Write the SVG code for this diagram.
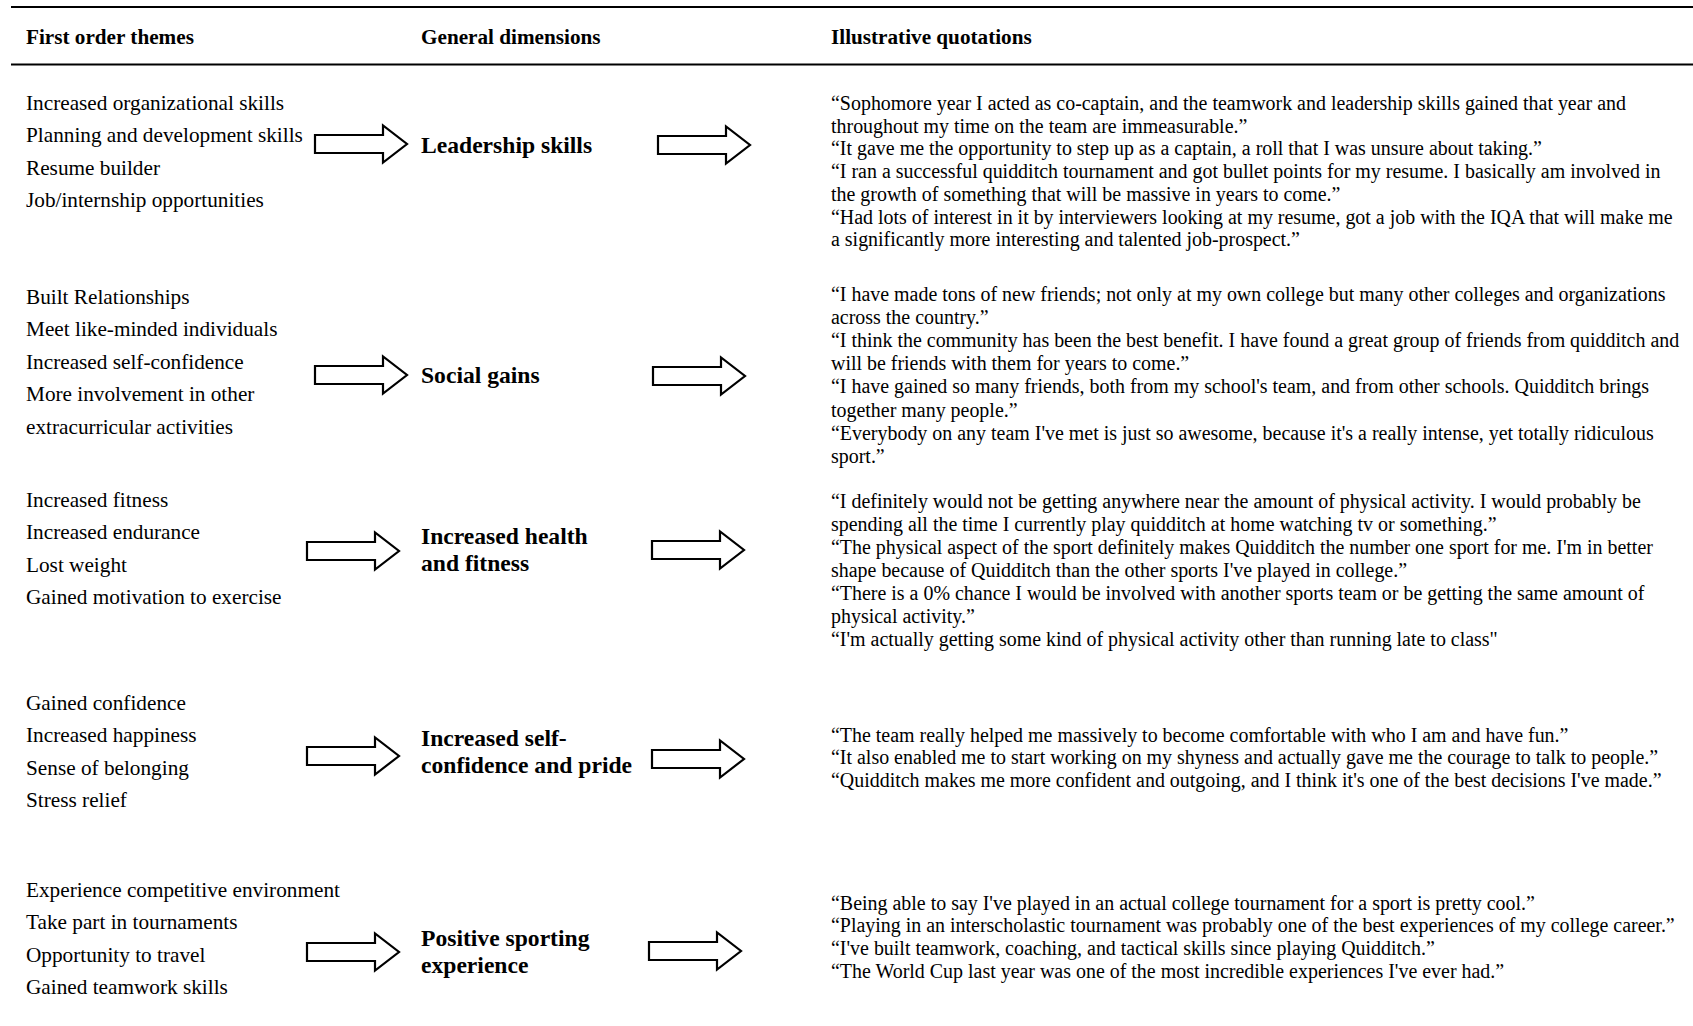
<svg xmlns="http://www.w3.org/2000/svg" xmlns:xlink="http://www.w3.org/1999/xlink" width="1693" height="1026" viewBox="0 0 1693 1026">
<style>
text{font-family:"Liberation Serif","Times New Roman",serif;fill:#000}
.h{font-size:21.2px;font-weight:bold}
.t{font-size:21.25px}
.d{font-size:23.6px;font-weight:bold}
.q{font-size:19.95px}
.rule{stroke:#000;stroke-width:2}
.arr{fill:#fff;stroke:#000;stroke-width:2.2;stroke-linejoin:miter}
</style>
<defs>
<path id="arrow" class="arr" d="M0,-9 H68 V-18.5 L92,0 L68,18.5 V9 H0 Z"/>
</defs>
<rect width="1693" height="1026" fill="#fff"/>
<g id="header">
<line class="rule" x1="11" y1="7" x2="1693" y2="7"/>
<line class="rule" x1="11" y1="64.5" x2="1693" y2="64.5"/>
<text class="h" x="26" y="44">First order themes</text>
<text class="h" x="421" y="44">General dimensions</text>
<text class="h" x="831" y="44">Illustrative quotations</text>
</g>
<g id="themes-leadership">
<text class="t" x="26" y="110">Increased organizational skills</text>
<text class="t" x="26" y="142.4">Planning and development skills</text>
<text class="t" x="26" y="174.8">Resume builder</text>
<text class="t" x="26" y="207.2">Job/internship opportunities</text>
</g>
<g id="dim-leadership"><text class="d" x="421" y="152.5">Leadership skills</text></g>
<g id="quotes-leadership">
<text class="q" x="831" y="110">“Sophomore year I acted as co-captain, and the teamwork and leadership skills gained that year and</text>
<text class="q" x="831" y="132.7">throughout my time on the team are immeasurable.”</text>
<text class="q" x="831" y="155.4">“It gave me the opportunity to step up as a captain, a roll that I was unsure about taking.”</text>
<text class="q" x="831" y="178.1">“I ran a successful quidditch tournament and got bullet points for my resume. I basically am involved in</text>
<text class="q" x="831" y="200.8">the growth of something that will be massive in years to come.”</text>
<text class="q" x="831" y="223.5">“Had lots of interest in it by interviewers looking at my resume, got a job with the IQA that will make me</text>
<text class="q" x="831" y="246.2">a significantly more interesting and talented job-prospect.”</text>
</g>
<g id="themes-social">
<text class="t" x="26" y="304">Built Relationships</text>
<text class="t" x="26" y="336.4">Meet like-minded individuals</text>
<text class="t" x="26" y="368.8">Increased self-confidence</text>
<text class="t" x="26" y="401.2">More involvement in other</text>
<text class="t" x="26" y="433.6">extracurricular activities</text>
</g>
<g id="dim-social"><text class="d" x="421" y="383">Social gains</text></g>
<g id="quotes-social">
<text class="q" x="831" y="301">“I have made tons of new friends; not only at my own college but many other colleges and organizations</text>
<text class="q" x="831" y="324.1">across the country.”</text>
<text class="q" x="831" y="347.2">“I think the community has been the best benefit. I have found a great group of friends from quidditch and</text>
<text class="q" x="831" y="370.3">will be friends with them for years to come.”</text>
<text class="q" x="831" y="393.4">“I have gained so many friends, both from my school's team, and from other schools. Quidditch brings</text>
<text class="q" x="831" y="416.5">together many people.”</text>
<text class="q" x="831" y="439.6">“Everybody on any team I've met is just so awesome, because it's a really intense, yet totally ridiculous</text>
<text class="q" x="831" y="462.7">sport.”</text>
</g>
<g id="themes-health">
<text class="t" x="26" y="507">Increased fitness</text>
<text class="t" x="26" y="539.4">Increased endurance</text>
<text class="t" x="26" y="571.8">Lost weight</text>
<text class="t" x="26" y="604.2">Gained motivation to exercise</text>
</g>
<g id="dim-health">
<text class="d" x="421" y="544">Increased health</text>
<text class="d" x="421" y="571">and fitness</text>
</g>
<g id="quotes-health">
<text class="q" x="831" y="508">“I definitely would not be getting anywhere near the amount of physical activity. I would probably be</text>
<text class="q" x="831" y="531">spending all the time I currently play quidditch at home watching tv or something.”</text>
<text class="q" x="831" y="554">“The physical aspect of the sport definitely makes Quidditch the number one sport for me. I'm in better</text>
<text class="q" x="831" y="577">shape because of Quidditch than the other sports I've played in college.”</text>
<text class="q" x="831" y="600">“There is a 0% chance I would be involved with another sports team or be getting the same amount of</text>
<text class="q" x="831" y="623">physical activity.”</text>
<text class="q" x="831" y="646">“I'm actually getting some kind of physical activity other than running late to class"</text>
</g>
<g id="themes-confidence">
<text class="t" x="26" y="710">Gained confidence</text>
<text class="t" x="26" y="742.4">Increased happiness</text>
<text class="t" x="26" y="774.8">Sense of belonging</text>
<text class="t" x="26" y="807.2">Stress relief</text>
</g>
<g id="dim-confidence">
<text class="d" x="421" y="746">Increased self-</text>
<text class="d" x="421" y="773">confidence and pride</text>
</g>
<g id="quotes-confidence">
<text class="q" x="831" y="741.5">“The team really helped me massively to become comfortable with who I am and have fun.”</text>
<text class="q" x="831" y="764.2">“It also enabled me to start working on my shyness and actually gave me the courage to talk to people.”</text>
<text class="q" x="831" y="786.9">“Quidditch makes me more confident and outgoing, and I think it's one of the best decisions I've made.”</text>
</g>
<g id="themes-sporting">
<text class="t" x="26" y="897">Experience competitive environment</text>
<text class="t" x="26" y="929.4">Take part in tournaments</text>
<text class="t" x="26" y="961.8">Opportunity to travel</text>
<text class="t" x="26" y="994.2">Gained teamwork skills</text>
</g>
<g id="dim-sporting">
<text class="d" x="421" y="946">Positive sporting</text>
<text class="d" x="421" y="973">experience</text>
</g>
<g id="quotes-sporting">
<text class="q" x="831" y="909.7">“Being able to say I've played in an actual college tournament for a sport is pretty cool.”</text>
<text class="q" x="831" y="932.4">“Playing in an interscholastic tournament was probably one of the best experiences of my college career.”</text>
<text class="q" x="831" y="955.1">“I've built teamwork, coaching, and tactical skills since playing Quidditch.”</text>
<text class="q" x="831" y="977.8">“The World Cup last year was one of the most incredible experiences I've ever had.”</text>
</g>
<g id="connectors">
<use xlink:href="#arrow" x="315" y="144"/>
<use xlink:href="#arrow" x="658" y="145"/>
<use xlink:href="#arrow" x="315" y="375"/>
<use xlink:href="#arrow" x="653" y="376"/>
<use xlink:href="#arrow" x="307" y="551"/>
<use xlink:href="#arrow" x="652" y="550"/>
<use xlink:href="#arrow" x="307" y="756"/>
<use xlink:href="#arrow" x="652" y="759"/>
<use xlink:href="#arrow" x="307" y="952"/>
<use xlink:href="#arrow" x="649" y="951"/>
</g>
</svg>
